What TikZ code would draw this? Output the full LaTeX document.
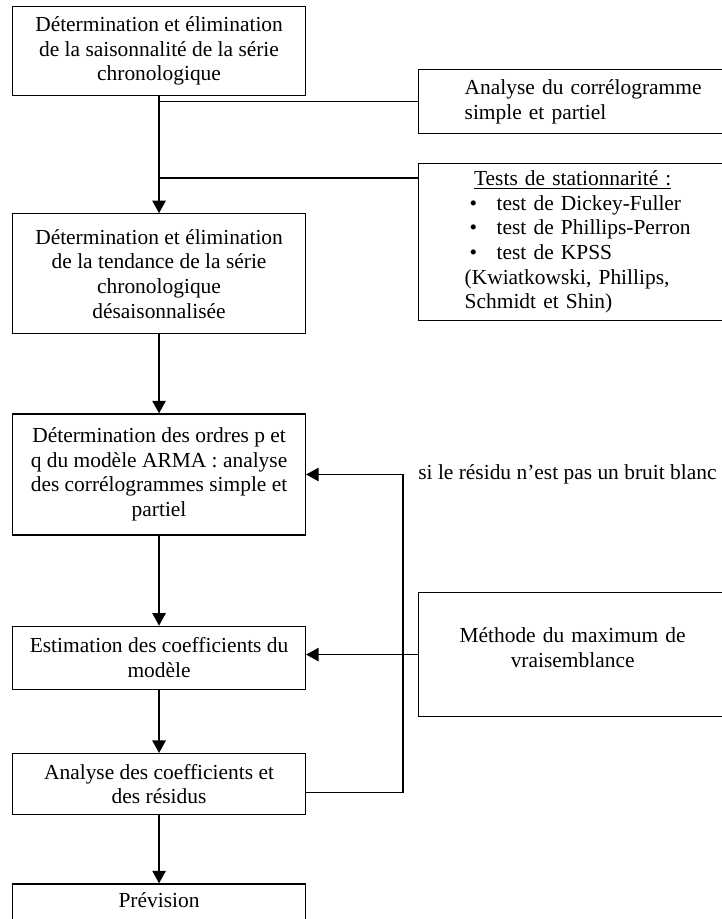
\documentclass[tikz,border=0pt]{standalone}
\usepackage{fontspec}
\setmainfont{Liberation Serif}
\usetikzlibrary{positioning,calc}
\usetikzlibrary{arrows.meta}

\begin{document}
\begin{tikzpicture}[x=0.56pt,y=-0.56pt,font=\fontsize{12}{13.8}\selectfont,
    etape/.style={rectangle,draw,line width=0.7pt,align=center,minimum width=164pt,inner sep=2pt},
    sidebox/.style={rectangle,draw,line width=0.7pt,align=left,text width=160pt,inner xsep=25.8pt,inner ysep=2pt},
    flow/.style={draw,line width=0.8pt,-{Triangle[length=7pt,width=7.5pt]}}]
    \clip (0,0) rectangle (722,919);
    % colonne de gauche
    \node[etape,anchor=north west,minimum height=49.8pt] (desais) at (12,6) {D\'etermination et \'elimination\\de la saisonnalit\'e de la s\'erie\\chronologique};
    \node[etape,below=65.5pt of desais,minimum height=67.2pt] (tend) {D\'etermination et \'elimination\\de la tendance de la s\'erie\\chronologique\\d\'esaisonnalis\'ee};
    \node[etape,below=44.2pt of tend,minimum height=67.8pt] (arma) {D\'etermination des ordres p et\\q du mod\`ele ARMA : analyse\\des corr\'elogrammes simple et\\partiel};
    \node[etape,below=50.4pt of arma,minimum height=35.3pt] (estim) {Estimation des coefficients du\\mod\`ele};
    \node[etape,below=35.3pt of estim,minimum height=34.2pt] (diag) {Analyse des coefficients et\\des r\'esidus};
    \node[etape,below=38.1pt of diag,inner ysep=5pt,text depth=30pt] (prev) {Pr\'evision};
    % colonne de droite
    \node[sidebox,anchor=north west,minimum height=35.8pt] (correlo) at (418,69) {Analyse du corr\'elogramme\\simple et partiel};
    \node[sidebox,anchor=north west,minimum height=87.9pt] (tests) at (418,163) {\makebox[121pt]{\underline{Tests de stationnarit\'e :}}\\
        \hspace*{2.8pt}\makebox[15.1pt][l]{\textbullet}test de Dickey-Fuller\\
        \hspace*{2.8pt}\makebox[15.1pt][l]{\textbullet}test de Phillips-Perron\\
        \hspace*{2.8pt}\makebox[15.1pt][l]{\textbullet}test de KPSS\\
        (Kwiatkowski, Phillips,\\
        Schmidt et Shin)};
    \node[sidebox,anchor=north west,align=center,text width=160pt,inner xsep=6.25pt,minimum height=69.4pt] (maxvrais) at (418,592) {M\'ethode du maximum de\\vraisemblance\\[-6pt]\mbox{}};
    \node[anchor=west,inner sep=0pt] (bruit) at (arma.east -| maxvrais.west) {si le r\'esidu n’est pas un bruit blanc};
    \coordinate (tests in) at ([yshift=-8.4pt]tests.north west);
    \coordinate (coin) at ([xshift=-8.4pt]bruit.west);
    \coordinate (retour) at ([yshift=-4.8pt]diag.east);
    % liaisons
    \draw[flow] (desais.south) -- (tend.north);
    \draw[line width=0.8pt] (correlo.west) -- (correlo.west -| desais.south);
    \draw[line width=0.8pt] (tests in) -- (tests in -| desais.south);
    \draw[flow] (tend.south) -- (arma.north);
    \draw[flow] (arma.south) -- (estim.north);
    \draw[flow] (estim.south) -- (diag.north);
    \draw[flow] (diag.south) -- (prev.north);
    \draw[flow] (maxvrais.west) -- (maxvrais.west -| estim.east);
    \draw[flow] (retour) -- (retour -| coin) |- (arma.east);
\end{tikzpicture}
\end{document}
